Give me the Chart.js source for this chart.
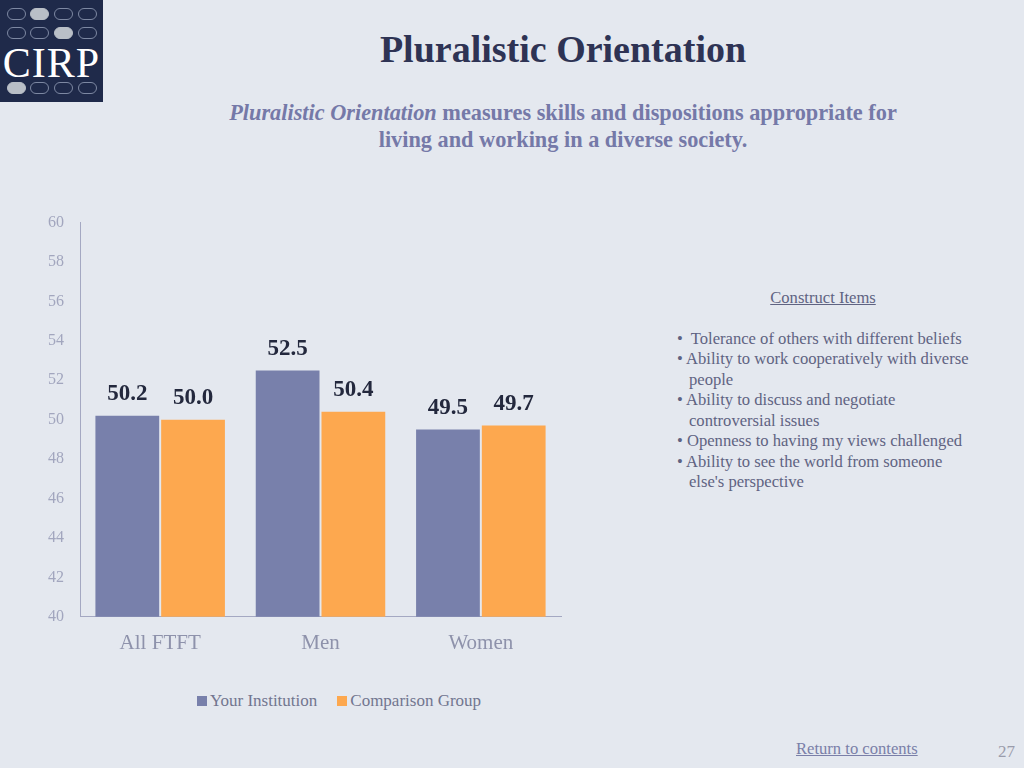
<!DOCTYPE html>
<html>
<head>
<meta charset="utf-8">
<script src="https://cdn.jsdelivr.net/npm/chart.js@4.4.1/dist/chart.umd.min.js"></script>
<style>
  html, body { margin: 0; padding: 0; }
  body {
    width: 1024px; height: 768px; position: relative; overflow: hidden;
    background: #e4e8ef; font-family: "Liberation Serif", serif;
  }
  .abs { position: absolute; }
  #logo { left: 0; top: 0; width: 103px; height: 102px; background: #1f2a4a; }
  .oval { position: absolute; width: 19px; height: 12px; border: 1px solid #7d88a2; border-radius: 7px; box-sizing: border-box; }
  .oval.on { background: #b9bfc7; border-color: #b9bfc7; }
  #cirp { position: absolute; left: 0; top: 42px; width: 103px; text-align: center; color: #fff; font-size: 42px; line-height: 42px; letter-spacing: 1px; }
  #title { left: 0; width: 1126px; top: 27px; text-align: center; font-size: 38px; font-weight: bold; color: #2e3354; }
  #sub { left: 150px; width: 826px; top: 99px; text-align: center; font-size: 22.3px; font-weight: bold; color: #7579a8; line-height: 27px; }
  #chartBox { left: 0; top: 197px; width: 600px; height: 473px; }
  #legend { left: 0; width: 678px; top: 691px; text-align: center; font-size: 17px; color: #72768f; }
  #legend span.item { margin: 0 10px; }
  #legend span.box { display: inline-block; width: 10px; height: 10px; margin-right: 3px; }
  #items { left: 672px; top: 288px; width: 320px; font-size: 16.6px; color: #5f6382; line-height: 20.5px; }
  #items .head { text-align: center; text-decoration: underline; width: 302px; margin-bottom: 20px; }
  #items .li { padding-left: 17px; text-indent: -12px; }
  #ret { left: 796px; top: 739px; font-size: 16.6px; color: #7a7fa8; text-decoration: underline; }
  #page { left: 998px; top: 742px; font-size: 17px; color: #9a9cab; }
</style>
</head>
<body>
<div id="logo" class="abs">
  <div class="oval" style="left:7px;top:8px"></div>
  <div class="oval on" style="left:30px;top:8px"></div>
  <div class="oval" style="left:54px;top:8px"></div>
  <div class="oval" style="left:78px;top:8px"></div>
  <div class="oval" style="left:7px;top:27px"></div>
  <div class="oval" style="left:30px;top:27px"></div>
  <div class="oval on" style="left:54px;top:27px"></div>
  <div class="oval" style="left:78px;top:27px"></div>
  <div id="cirp">CIRP</div>
  <div class="oval on" style="left:7px;top:82px"></div>
  <div class="oval" style="left:30px;top:82px"></div>
  <div class="oval" style="left:54px;top:82px"></div>
  <div class="oval" style="left:78px;top:82px"></div>
</div>

<div id="title" class="abs">Pluralistic Orientation</div>
<div id="sub" class="abs"><i>Pluralistic Orientation</i> measures skills and dispositions appropriate for<br>living and working in a diverse society.</div>

<div id="chartBox" class="abs"><canvas id="myChart"></canvas></div>
<div id="legend" class="abs"></div>

<div id="items" class="abs">
  <div class="head">Construct Items</div>
  <div class="li">•&nbsp; Tolerance of others with different beliefs</div>
  <div class="li">• Ability to work cooperatively with diverse<br>people</div>
  <div class="li">• Ability to discuss and negotiate<br>controversial issues</div>
  <div class="li">• Openness to having my views challenged</div>
  <div class="li">• Ability to see the world from someone<br>else's perspective</div>
</div>

<div id="ret" class="abs">Return to contents</div>
<div id="page" class="abs">27</div>

<script>
const groups = ["All FTFT", "Men", "Women"];
const seriesNames = ["Your Institution", "Comparison Group"];
const yourInstitution = [50.2, 52.5, 49.5];
const comparisonGroup = [50.0, 50.4, 49.7];
const seriesColors = ["#7880ab", "#fda84f"];

const valueLabels = {
  id: "valueLabels",
  afterDatasetsDraw(chart) {
    const c = chart.ctx;
    c.save();
    c.font = "bold 23px 'Liberation Serif', serif";
    c.fillStyle = "#23283d";
    c.textAlign = "center";
    c.textBaseline = "bottom";
    chart.data.datasets.forEach((ds, i) => {
      chart.getDatasetMeta(i).data.forEach((bar, j) => {
        c.fillText(ds.data[j].toFixed(1), bar.x, bar.y - 10);
      });
    });
    c.restore();
  }
};

const ctx = document.getElementById("myChart");
const chart = new Chart(ctx, {
  type: "bar",
  data: {
    labels: groups,
    datasets: [
      { label: seriesNames[0], data: yourInstitution, backgroundColor: seriesColors[0] },
      { label: seriesNames[1], data: comparisonGroup, backgroundColor: seriesColors[1] }
    ]
  },
  options: {
    responsive: true,
    maintainAspectRatio: false,
    animation: false,
    datasets: { bar: { barPercentage: 0.97, categoryPercentage: 0.82 } },
    layout: { padding: { top: 11, right: 39, left: 32, bottom: 0 } },
    plugins: { legend: { display: false }, tooltip: { enabled: false } },
    scales: {
      x: {
        grid: { display: false, drawTicks: false },
        border: { color: "#a4a8c2" },
        ticks: { color: "#8e92ab", font: { family: "'Liberation Serif', serif", size: 21 }, padding: 14 }
      },
      y: {
        min: 40, max: 60,
        grid: { display: false, drawTicks: false },
        border: { color: "#a4a8c2" },
        ticks: { stepSize: 2, color: "#a2a6be", font: { family: "'Liberation Serif', serif", size: 16 }, padding: 16 }
      }
    }
  },
  plugins: [valueLabels]
});

const legend = document.getElementById("legend");
chart.data.datasets.forEach((ds) => {
  const item = document.createElement("span");
  item.className = "item";
  item.innerHTML = '<span class="box" style="background:' + ds.backgroundColor + '"></span>' + ds.label;
  legend.appendChild(item);
});
</script>
</body>
</html>
